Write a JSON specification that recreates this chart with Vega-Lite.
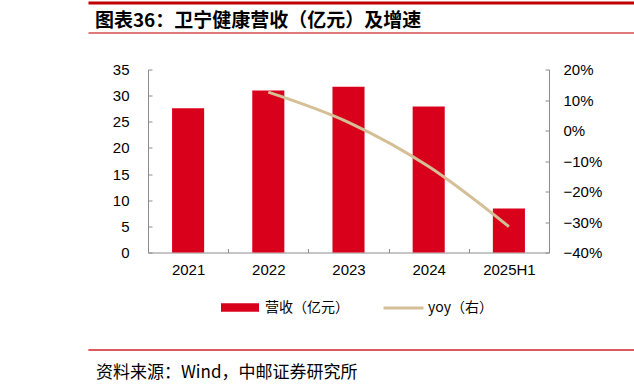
{
  "$schema": "https://vega.github.io/schema/vega-lite/v6.json",
  "background": "white",
  "padding": {"left": 88, "top": 2.5, "right": 0, "bottom": 0},
  "spacing": 0,
  "config": {
    "view": {"stroke": null},
    "font": "Liberation Sans",
    "axis": {
      "grid": false,
      "domainColor": "#8C8C8C",
      "tickColor": "#8C8C8C",
      "labelColor": "#000000",
      "labelFont": "Liberation Sans",
      "labelFontSize": 15,
      "tickSize": -4,
      "title": null
    },
    "legend": {
      "padding": 0,
      "labelFont": "Noto Sans CJK SC",
      "labelFontSize": 14,
      "labelColor": "#000000",
      "title": null
    }
  },
  "vconcat": [
    {
      "width": 546,
      "height": 60,
      "data": {"values": [{"caption": "图表36：卫宁健康营收（亿元）及增速"}]},
      "mark": {"type": "text", "align": "left", "baseline": "middle", "font": "Noto Sans CJK SC", "fontSize": 19, "fontWeight": "bold", "color": "#000000"},
      "encoding": {
        "text": {"field": "caption"},
        "x": {"datum": 0, "type": "quantitative", "scale": {"domain": [-0.0128, 1], "zero": false}, "axis": null},
        "y": {
          "datum": 0.688,
          "type": "quantitative",
          "scale": {"domain": [0, 1]},
          "axis": {
            "values": [1, 0.5],
            "grid": true,
            "gridColor": {"condition": {"test": "datum.value === 1", "value": "#C00000"}, "value": "#E07A7A"},
            "gridWidth": {"condition": {"test": "datum.value === 1", "value": 3}, "value": 2},
            "domain": false,
            "ticks": false,
            "labels": false,
            "minExtent": 0,
            "title": null
          }
        }
      }
    },
    {
      "width": 461,
      "height": 183,
      "data": {
        "values": [
          {"period": "2021", "revenue": 27.6, "yoy": null},
          {"period": "2022", "revenue": 31.0, "yoy": 0.126},
          {"period": "2023", "revenue": 31.7, "yoy": 0.027},
          {"period": "2024", "revenue": 27.9, "yoy": -0.118},
          {"period": "2025H1", "revenue": 8.4, "yoy": -0.315}
        ]
      },
      "encoding": {
        "x": {
          "field": "period",
          "type": "nominal",
          "sort": null,
          "scale": {"paddingInner": 0, "paddingOuter": 0, "range": [60, 461]},
          "axis": {"labelAngle": 0, "tickBand": "extent", "labelPadding": 14, "minExtent": 97, "title": null}
        }
      },
      "layer": [
        {
          "mark": {"type": "bar", "width": {"band": 0.4}},
          "encoding": {
            "y": {
              "field": "revenue",
              "type": "quantitative",
              "scale": {"domain": [0, 35]},
              "axis": {"orient": "left", "offset": -60, "values": [0, 5, 10, 15, 20, 25, 30, 35], "labelPadding": 23, "minExtent": 0, "title": null}
            },
            "color": {
              "datum": "营收（亿元）",
              "scale": {"range": ["#D9001B"]},
              "legend": {
                "orient": "none",
                "legendX": 133,
                "legendY": 286,
                "symbolType": "M-1,-0.22L1,-0.22L1,0.22L-1,0.22Z",
                "symbolSize": 1444,
                "symbolStrokeWidth": 0,
                "labelOffset": 6
              }
            }
          }
        },
        {
          "mark": {"type": "line", "interpolate": "monotone", "strokeWidth": 3},
          "encoding": {
            "y": {
              "field": "yoy",
              "type": "quantitative",
              "scale": {"domain": [-0.4, 0.2]},
              "axis": {"orient": "right", "format": ".0%", "values": [-0.4, -0.3, -0.2, -0.1, 0, 0.1, 0.2], "labelPadding": 18, "title": null}
            },
            "stroke": {
              "datum": "yoy（右）",
              "scale": {"range": ["#D4BF96"]},
              "legend": {
                "orient": "none",
                "legendX": 294,
                "legendY": 284,
                "symbolType": "stroke",
                "symbolSize": 1600,
                "symbolStrokeWidth": 3,
                "labelOffset": 3
              }
            }
          }
        }
      ],
      "resolve": {"scale": {"y": "independent"}}
    },
    {
      "width": 546,
      "height": 30,
      "data": {"values": [{"caption": "资料来源：Wind，中邮证券研究所"}]},
      "mark": {"type": "text", "align": "left", "baseline": "middle", "font": "Noto Sans CJK SC", "fontSize": 17, "color": "#000000"},
      "encoding": {
        "text": {"field": "caption"},
        "x": {"datum": 0, "type": "quantitative", "scale": {"domain": [-0.0147, 1], "zero": false}, "axis": null},
        "y": {
          "datum": 0.2333,
          "type": "quantitative",
          "scale": {"domain": [0, 1]},
          "axis": {
            "values": [1, 0.9999],
            "grid": true,
            "gridColor": {"condition": {"test": "datum.value === 1", "value": "#D95050"}, "value": "#D95050"},
            "gridWidth": {"condition": {"test": "datum.value === 1", "value": 1.5}, "value": 1.5},
            "domain": false,
            "ticks": false,
            "labels": false,
            "minExtent": 0,
            "title": null
          }
        }
      }
    }
  ]
}
